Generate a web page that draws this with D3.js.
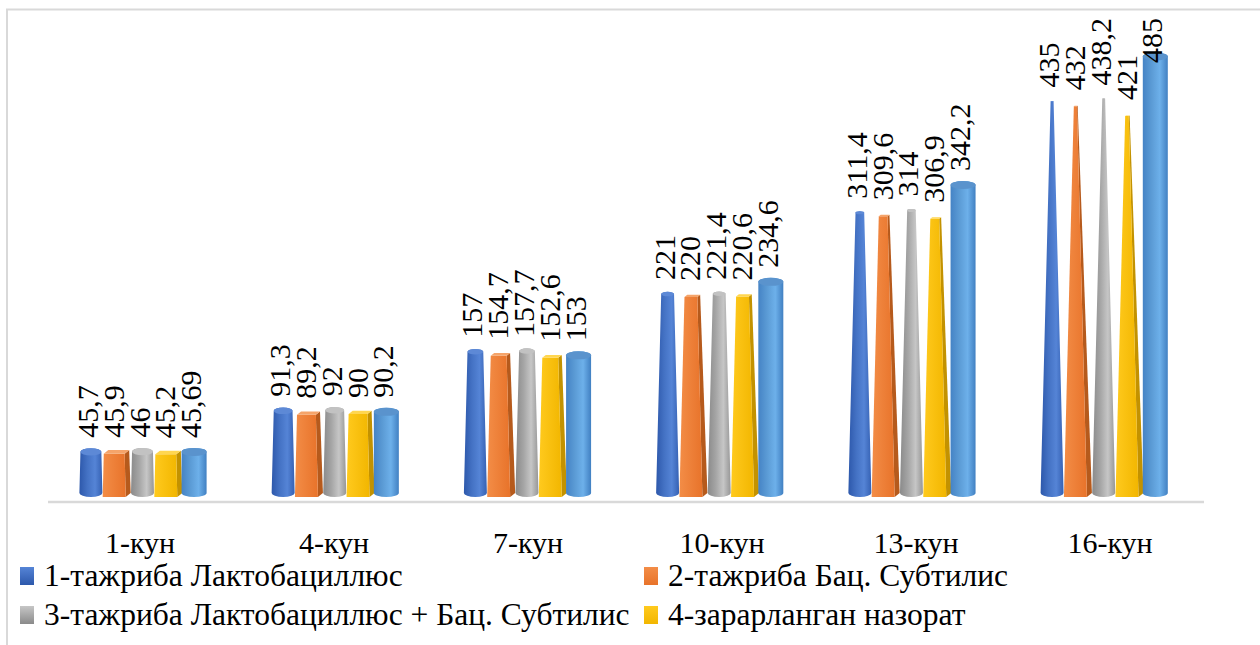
<!DOCTYPE html>
<html>
<head>
<meta charset="utf-8">
<script src="https://cdn.jsdelivr.net/npm/d3@7"></script>
<style>
  html, body { margin: 0; padding: 0; background: #fff; }
  svg { display: block; }
</style>
</head>
<body>
<svg id="chart" width="1260" height="645" font-family="'Liberation Serif', 'Times New Roman', Tinos, 'DejaVu Serif', serif"></svg>
<script>
// Days of observation
const days = ["1-кун", "4-кун", "7-кун", "10-кун", "13-кун", "16-кун"];

// Series values per day
const lacto      = [45.7, 91.3, 157, 221, 311.4, 435];
const subtilis   = [45.9, 89.2, 154.7, 220, 309.6, 432];
const mixed      = [46, 92, 157.7, 221.4, 314, 438.2];
const infected   = [45.2, 90, 152.6, 220.6, 306.9, 421];
const fifthSeries = [45.69, 90.2, 153, 234.6, 342.2, 485];

// Legend names (the fifth series carries no name)
const legendNames = [
  "1-тажриба Лактобациллюс",
  "2-тажриба Бац. Субтилис",
  "3-тажриба Лактобациллюс + Бац. Субтилис",
  "4-зарарланган назорат"
];

const series = [
  { key: "s1", values: lacto,       shape: "cone",     pal: { dark: "#2d58ab", base: "#4472c4", light: "#5584d6", edge: "#3561b3", top: "#5d89d6" } },
  { key: "s2", values: subtilis,    shape: "pyramid",  pal: { dark: "#e8732a", base: "#ed7d31", light: "#f38d47", edge: "#b65a1c", top: "#f5a46a" } },
  { key: "s3", values: mixed,       shape: "cone",     pal: { dark: "#8a8a8a", base: "#a5a5a5", light: "#c6c6c6", edge: "#969696", top: "#c2c2c2" } },
  { key: "s4", values: infected,    shape: "pyramid",  pal: { dark: "#f2b600", base: "#ffc000", light: "#ffca1e", edge: "#c39200", top: "#ffd650" } },
  { key: "s5", values: fifthSeries, shape: "cylinder", pal: { dark: "#4583c5", base: "#5b9bd5", light: "#6db0ea", edge: "#4180c2", top: "#5a93cd" } }
];

const svg = d3.select("#chart");
const defs = svg.append("defs");

// Horizontal shading for round shapes, flat shading for pyramid fronts
series.forEach(s => {
  const p = s.pal;
  const g = defs.append("linearGradient").attr("id", "grad-" + s.key)
    .attr("x1", "0%").attr("x2", "100%").attr("y1", "0%").attr("y2", "0%");
  const stops = s.shape === "pyramid"
    ? [[0, p.light], [1, p.dark]]
    : [[0, p.dark], [0.35, p.base], [0.68, p.light], [1, p.edge]];
  stops.forEach(([o, c]) => g.append("stop").attr("offset", o).attr("stop-color", c));
  const lg = defs.append("linearGradient").attr("id", "leg-" + s.key)
    .attr("x1", "0%").attr("x2", "0%").attr("y1", "0%").attr("y2", "100%");
  lg.append("stop").attr("offset", 0).attr("stop-color", p.light);
  lg.append("stop").attr("offset", 1).attr("stop-color", p.dark);
});

// Scales
const yMax = 500;
const y = d3.scaleLinear().domain([0, yMax]).range([493, 43]);
const xGroup = d3.scalePoint().domain(days).range([142.5, 1103.7]);
const xLabel = d3.scalePoint().domain(days).range([140, 1110]);
const xSlot = d3.scaleBand().domain(series.map(s => s.key)).range([-64.5, 64.5]).paddingInner(0);

// Chart frame
svg.append("path")
  .attr("d", "M7,645 V9.5 H1260")
  .attr("fill", "none").attr("stroke", "#d9d9d9").attr("stroke-width", 2);

// Floor line
svg.append("line")
  .attr("x1", 48).attr("x2", 1204).attr("y1", 502).attr("y2", 502)
  .attr("stroke", "#d9d9d9").attr("stroke-width", 2.5);

const R = 11.5, RCYL = 12.5, RY = 4, DX = 5, DY = 4;
const baseY = y(0);

function roundBody(cx, v, r0, tapered) {
  const yt = y(v);
  const rt = tapered ? r0 * (1 - v / yMax) : r0;
  const ryt = RY * rt / r0;
  const body = `M${cx - r0},${baseY} A${r0},${RY} 0 0 0 ${cx + r0},${baseY} ` +
               `L${cx + rt},${yt} A${rt},${ryt} 0 0 0 ${cx - rt},${yt} Z`;
  return { body, cap: { cx, cy: yt, rx: rt, ry: ryt } };
}

function pyramidBody(cx, v) {
  const h = R;
  const y0 = baseY + RY;
  const yt = y(v) + 2;
  const k = 1 - v / yMax;
  const ht = h * k, dxt = DX * k, dyt = DY * k;
  const fx = cx - DX / 2;
  const front = [[fx - h, y0], [fx + h, y0], [fx + ht, yt], [fx - ht, yt]];
  const side = [[fx + h, y0], [fx + h + DX, y0 - DY], [fx + ht + dxt, yt - dyt], [fx + ht, yt]];
  const top = [[fx - ht, yt], [fx + ht, yt], [fx + ht + dxt, yt - dyt], [fx - ht + dxt, yt - dyt]];
  return { front, side, top };
}

const poly = pts => "M" + pts.map(p => p.join(",")).join("L") + "Z";

const bars = svg.append("g");
days.forEach((day, di) => {
  series.forEach(s => {
    const v = s.values[di];
    const cx = xGroup(day) + xSlot(s.key) + xSlot.bandwidth() / 2;
    const g = bars.append("g");
    if (s.shape === "pyramid") {
      const b = pyramidBody(cx, v);
      g.append("path").attr("d", poly(b.side)).attr("fill", s.pal.edge);
      g.append("path").attr("d", poly(b.front)).attr("fill", `url(#grad-${s.key})`);
      g.append("path").attr("d", poly(b.top)).attr("fill", s.pal.top);
    } else {
      const b = roundBody(cx, v, s.shape === "cylinder" ? RCYL : R, s.shape === "cone");
      g.append("path").attr("d", b.body).attr("fill", `url(#grad-${s.key})`);
      g.append("ellipse").attr("cx", b.cap.cx).attr("cy", b.cap.cy)
        .attr("rx", b.cap.rx).attr("ry", b.cap.ry).attr("fill", s.pal.top);
    }
  });
});

// Value labels, rotated, kept inside the plot top
const fmt = v => String(v).replace(".", ",");
const labels = svg.append("g").attr("font-size", 30);
days.forEach((day, di) => {
  series.forEach(s => {
    const v = s.values[di];
    const cx = xGroup(day) + xSlot(s.key) + xSlot.bandwidth() / 2 - 3.5;
    const t = labels.append("text")
      .attr("dominant-baseline", "central")
      .attr("text-anchor", "start")
      .text(fmt(v));
    const len = t.node().getComputedTextLength();
    let bottom = y(v) - 14;
    if (bottom - len < 18) bottom = 18 + len;
    t.attr("transform", `translate(${cx},${bottom}) rotate(-90)`);
  });
});

// Category axis labels
svg.append("g").attr("font-size", 30)
  .selectAll("text").data(days).join("text")
  .attr("x", d => xLabel(d)).attr("y", 553)
  .attr("text-anchor", "middle")
  .text(d => d);

// Legend in two columns
const legCols = [20, 644], legRows = [567, 606];
const leg = svg.append("g").selectAll("g").data(legendNames).join("g")
  .attr("transform", (d, i) => `translate(${legCols[i % 2]},${legRows[Math.floor(i / 2)]})`);
leg.append("rect").attr("width", 14).attr("height", 18)
  .attr("fill", (d, i) => `url(#leg-${series[i].key})`);
leg.append("text").attr("x", 24).attr("y", 19).attr("font-size", 31.5).text(d => d);
</script>
</body>
</html>
